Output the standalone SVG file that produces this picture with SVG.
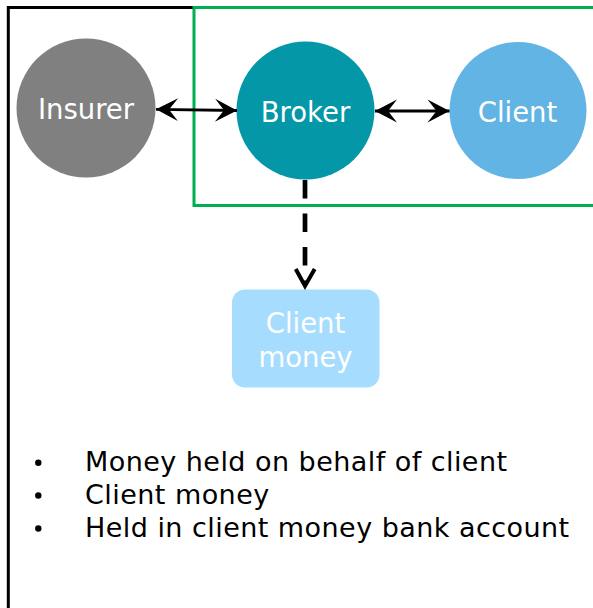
<svg xmlns="http://www.w3.org/2000/svg" width="593" height="608" viewBox="0 0 593 608">
<style>
.lbl{font-family:"DejaVu Sans","Liberation Sans",sans-serif;font-size:27.5px;fill:#ffffff;text-anchor:middle}
.bul{font-family:"DejaVu Sans","Liberation Sans",sans-serif;font-size:27px;fill:#000000;letter-spacing:0.45px}
.conn{stroke:#000;stroke-width:2.8;fill:none}
</style>
<defs>
<marker id="ah" markerUnits="userSpaceOnUse" markerWidth="30" markerHeight="30" refX="24" refY="13" orient="auto-start-reverse" style="overflow:visible">
<path d="M24,13 L2,1.5 L11,13 L2,24.5 Z" fill="#000"/>
</marker>
</defs>
<rect width="593" height="608" fill="#ffffff"/>
<g id="frame">
<path d="M8.3,608 V7.5 H194" fill="none" stroke="#000" stroke-width="3"/>
</g>
<g id="broker-group">
<rect x="194" y="7.5" width="420" height="198" fill="none" stroke="#00b050" stroke-width="3"/>
</g>
<g id="insurer">
<circle cx="86" cy="108" r="69.5" fill="#808080"/>
<text class="lbl" x="86" y="119.3">Insurer</text>
</g>
<g id="broker">
<circle cx="305.5" cy="110.5" r="69" fill="#0397a8"/>
<text class="lbl" x="305.5" y="121.7">Broker</text>
</g>
<g id="client">
<circle cx="518" cy="110.5" r="68.5" fill="#62b4e4"/>
<text class="lbl" x="517.5" y="121.7">Client</text>
</g>
<g id="client-money">
<rect x="232" y="289.5" width="147.5" height="98" rx="13" fill="#a6dcfd"/>
<text class="lbl" x="305.5" y="333.3">Client</text>
<text class="lbl" x="305.5" y="366.7">money</text>
</g>
<g id="connectors">
<line class="conn" x1="156" y1="109.3" x2="237" y2="110.5" marker-start="url(#ah)" marker-end="url(#ah)"/>
<line class="conn" x1="375" y1="111" x2="449.5" y2="111" marker-start="url(#ah)" marker-end="url(#ah)"/>
<line x1="305" y1="180" x2="305" y2="284" stroke="#000" stroke-width="4.7" stroke-dasharray="18.5 15"/>
<path d="M295.7,269 L305,286 L314.7,269" fill="none" stroke="#000" stroke-width="4"/>
</g>
<g id="bullets">
<circle cx="38.3" cy="462.7" r="3.2" fill="#000"/>
<circle cx="38.3" cy="495.5" r="3.2" fill="#000"/>
<circle cx="38.3" cy="528.5" r="3.2" fill="#000"/>
<text class="bul" x="85" y="470.7">Money held on behalf of client</text>
<text class="bul" x="85" y="504">Client money</text>
<text class="bul" x="85" y="537.3">Held in client money bank account</text>
</g>
</svg>
